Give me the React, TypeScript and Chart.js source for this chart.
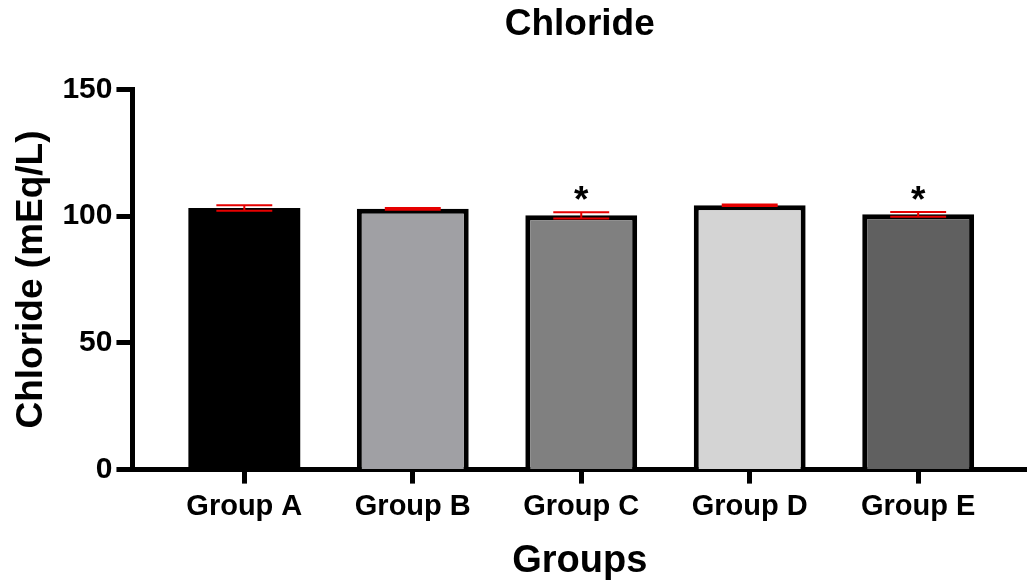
import React, { useEffect, useRef } from "react";
import { Chart, registerables } from "chart.js";

Chart.register(...registerables);

const groups = ["Group A", "Group B", "Group C", "Group D", "Group E"];
const chlorideMean = [103.2, 102.9, 100.3, 104.3, 100.7];
const chlorideSem = [1.1, 0.35, 1.2, 0.3, 0.9];
const significance = ["", "", "*", "", "*"];
const barFills = ["#000000", "#a0a0a4", "#808080", "#d4d4d4", "#606060"];
const yTicks = [0, 50, 100, 150];

const FONT = "'Liberation Sans', Arial, sans-serif";

// Mean ± SEM whiskers and significance asterisks drawn over the bars
const errorBarPlugin = {
  id: "errorBars",
  afterDatasetsDraw(chart: any) {
    const meta = chart.getDatasetMeta(0);
    const yScale = chart.scales.y;
    const ctx = chart.ctx;
    ctx.save();
    meta.data.forEach((bar: any, i: number) => {
      const x = bar.x;
      const half = bar.width / 4;
      const yHi = yScale.getPixelForValue(chlorideMean[i] + chlorideSem[i]);
      const yLo = yScale.getPixelForValue(chlorideMean[i] - chlorideSem[i]);
      ctx.strokeStyle = "#e60000";
      ctx.lineWidth = 2;
      ctx.beginPath();
      ctx.moveTo(x, yHi);
      ctx.lineTo(x, yLo);
      ctx.moveTo(x - half, yHi);
      ctx.lineTo(x + half, yHi);
      ctx.moveTo(x - half, yLo);
      ctx.lineTo(x + half, yLo);
      ctx.stroke();
      if (significance[i]) {
        ctx.fillStyle = "#000";
        ctx.font = `bold 37px ${FONT}`;
        ctx.textAlign = "center";
        ctx.textBaseline = "alphabetic";
        ctx.fillText(significance[i], x, yHi);
      }
    });
    ctx.restore();
  },
};

export default function App() {
  const canvasRef = useRef<HTMLCanvasElement>(null);

  useEffect(() => {
    if (!canvasRef.current) return;
    const chart = new Chart(canvasRef.current, {
      type: "bar",
      data: {
        datasets: [
          {
            data: chlorideMean.map((v, i) => ({ x: i, y: v })),
            backgroundColor: barFills,
            borderColor: "#000",
            // the black bar needs no separate outline
            borderWidth: barFills.map((c) => (c === "#000000" ? 0 : 5)),
            barPercentage: 0.664,
            categoryPercentage: 1,
          },
        ],
      },
      options: {
        animation: false,
        responsive: false,
        maintainAspectRatio: false,
        layout: { padding: { top: 0, right: 0, bottom: 0, left: 10 } },
        plugins: {
          legend: { display: false },
          tooltip: { enabled: false },
          title: {
            display: true,
            text: "Chloride",
            fullSize: false,
            color: "#000",
            font: { family: FONT, size: 37, weight: "bold" },
            padding: { top: 3, bottom: 42 },
          },
        },
        scales: {
          x: {
            type: "linear",
            offset: false,
            min: -0.664,
            max: 4.646,
            afterBuildTicks: (scale: any) => {
              scale.ticks = groups.map((_, i) => ({ value: i }));
            },
            ticks: {
              color: "#000",
              font: { family: FONT, size: 29, weight: "bold" },
              padding: 6,
              maxRotation: 0,
              autoSkip: false,
              callback: (v: any) => groups[v] ?? "",
            },
            grid: {
              offset: false,
              drawOnChartArea: false,
              color: "#000",
              tickLength: 14,
              tickWidth: 5,
            },
            border: { color: "#000", width: 5 },
            title: {
              display: true,
              text: "Groups",
              color: "#000",
              font: { family: FONT, size: 38, weight: "bold" },
              padding: { top: 8, bottom: 0 },
            },
          },
          y: {
            min: 0,
            max: 150,
            afterBuildTicks: (scale: any) => {
              scale.ticks = yTicks.map((v) => ({ value: v }));
            },
            ticks: {
              color: "#000",
              font: { family: FONT, size: 30, weight: "bold" },
              padding: 4,
            },
            grid: {
              drawOnChartArea: false,
              color: "#000",
              tickLength: 16,
              tickWidth: 5,
            },
            border: { color: "#000", width: 5 },
            title: {
              display: true,
              text: "Chloride (mEq/L)",
              color: "#000",
              font: { family: FONT, size: 37, weight: "bold" },
              padding: { top: 0, bottom: 4 },
            },
          },
        },
      },
      plugins: [errorBarPlugin],
    });
    return () => chart.destroy();
  }, []);

  return (
    <div style={{ position: "absolute", left: 0, top: 0, width: 1027, height: 584, background: "#fff" }}>
      <canvas ref={canvasRef} width={1027} height={584} style={{ display: "block" }} />
    </div>
  );
}
